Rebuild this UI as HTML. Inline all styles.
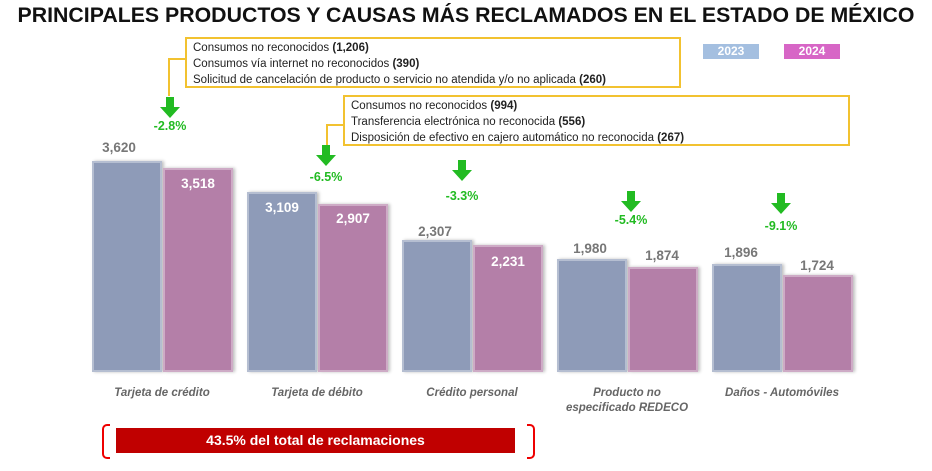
<!DOCTYPE html>
<html><head><meta charset="utf-8"><style>
body{margin:0;width:932px;height:471px;background:#fff;position:relative;overflow:hidden;font-family:"Liberation Sans",sans-serif}
.a{position:absolute}
.t{left:0;width:932px;top:3px;text-align:center;font-weight:bold;font-size:21.3px;color:#111;white-space:nowrap}
.bar{position:absolute;box-sizing:border-box;border:2px solid rgba(255,255,255,.35);box-shadow:2px 0 3px rgba(0,0,0,.25)}
.b3{background:#8e9bb8}.b4{background:#b47fa8}
.v{position:absolute;width:70px;text-align:center;font-weight:bold;font-size:13.5px}
.g{color:#777}.w{color:#fff}
.box{position:absolute;border:2px solid #f2c230;background:#fff;font-size:11.5px;line-height:16px;padding:1px 6px;box-sizing:border-box;color:#222}
.ln{position:absolute;background:#f2c230}
.arr{position:absolute;width:20px;height:21px}
.pct{position:absolute;width:60px;text-align:center;color:#22bb22;font-weight:bold;font-size:12.5px}
.lab{position:absolute;width:160px;text-align:center;font-style:italic;font-weight:bold;font-size:11.5px;color:#666;line-height:15px}
</style></head><body>
<div class="a t">PRINCIPALES PRODUCTOS Y CAUSAS MÁS RECLAMADOS EN EL ESTADO DE MÉXICO</div>
<div class="a" style="left:703px;top:44px;width:56px;height:15px;background:#a4bfe0;color:#fff;font-weight:bold;font-size:12px;text-align:center;line-height:15px">2023</div>
<div class="a" style="left:784px;top:44px;width:56px;height:15px;background:#d766c6;color:#fff;font-weight:bold;font-size:12px;text-align:center;line-height:15px">2024</div>

<div class="ln" style="left:168px;top:58px;width:18px;height:2px"></div>
<div class="ln" style="left:168px;top:58px;width:2px;height:38px"></div>
<div class="box" style="left:185px;top:37px;width:496px;height:51px">Consumos no reconocidos <b>(1,206)</b><br>Consumos vía internet no reconocidos <b>(390)</b><br>Solicitud de cancelación de producto o servicio no atendida y/o no aplicada <b>(260)</b></div>
<div class="ln" style="left:326px;top:124px;width:18px;height:2px"></div>
<div class="ln" style="left:326px;top:124px;width:2px;height:22px"></div>
<div style="position:absolute;left:343px;top:95px;width:507px;height:51px;box-sizing:border-box;border:2px solid #f2c230;background:#fff;font-size:11.5px;line-height:16px;padding:1px 6px;color:#222">Consumos no reconocidos <b>(994)</b><br>Transferencia electrónica no reconocida <b>(556)</b><br>Disposición de efectivo en cajero automático no reconocida <b>(267)</b></div>

<svg class="arr" style="left:160px;top:97px" viewBox="0 0 20 21"><path d="M6 0h8v10h6L10 21 0 10h6z" fill="#22bb22"/></svg>
<div class="pct" style="left:140px;top:119px">-2.8%</div>
<svg class="arr" style="left:316px;top:145px" viewBox="0 0 20 21"><path d="M6 0h8v10h6L10 21 0 10h6z" fill="#22bb22"/></svg>
<div class="pct" style="left:296px;top:170px">-6.5%</div>
<svg class="arr" style="left:452px;top:160px" viewBox="0 0 20 21"><path d="M6 0h8v10h6L10 21 0 10h6z" fill="#22bb22"/></svg>
<div class="pct" style="left:432px;top:189px">-3.3%</div>
<svg class="arr" style="left:621px;top:191px" viewBox="0 0 20 21"><path d="M6 0h8v10h6L10 21 0 10h6z" fill="#22bb22"/></svg>
<div class="pct" style="left:601px;top:213px">-5.4%</div>
<svg class="arr" style="left:771px;top:193px" viewBox="0 0 20 21"><path d="M6 0h8v10h6L10 21 0 10h6z" fill="#22bb22"/></svg>
<div class="pct" style="left:751px;top:219px">-9.1%</div>

<div class="bar b3" style="left:92px;top:161px;width:70px;height:211px"></div>
<div class="bar b4" style="left:163px;top:168px;width:70px;height:204px"></div>
<div class="v g" style="left:84px;top:140px">3,620</div>
<div class="v w" style="left:163px;top:176px">3,518</div>
<div class="bar b3" style="left:247px;top:192px;width:70px;height:180px"></div>
<div class="bar b4" style="left:318px;top:204px;width:70px;height:168px"></div>
<div class="v w" style="left:247px;top:200px">3,109</div>
<div class="v w" style="left:318px;top:211px">2,907</div>
<div class="bar b3" style="left:402px;top:240px;width:70px;height:132px"></div>
<div class="bar b4" style="left:473px;top:245px;width:70px;height:127px"></div>
<div class="v g" style="left:400px;top:224px">2,307</div>
<div class="v w" style="left:473px;top:254px">2,231</div>
<div class="bar b3" style="left:557px;top:259px;width:70px;height:113px"></div>
<div class="bar b4" style="left:628px;top:267px;width:70px;height:105px"></div>
<div class="v g" style="left:555px;top:241px">1,980</div>
<div class="v g" style="left:627px;top:248px">1,874</div>
<div class="bar b3" style="left:712px;top:264px;width:70px;height:108px"></div>
<div class="bar b4" style="left:783px;top:275px;width:70px;height:97px"></div>
<div class="v g" style="left:706px;top:245px">1,896</div>
<div class="v g" style="left:782px;top:258px">1,724</div>

<div class="lab" style="left:82px;top:386px">Tarjeta de crédito</div>
<div class="lab" style="left:237px;top:386px">Tarjeta de débito</div>
<div class="lab" style="left:392px;top:386px">Crédito personal</div>
<div class="lab" style="left:547px;top:386px">Producto no<br>especificado REDECO</div>
<div class="lab" style="left:702px;top:386px">Daños - Automóviles</div>

<div class="a" style="left:102px;top:424px;width:8px;height:35px;border:2.5px solid #e00;border-right:none;border-radius:5px 0 0 5px;box-sizing:border-box"></div>
<div class="a" style="left:116px;top:428px;width:399px;height:25px;background:#c00000;color:#fff;font-weight:bold;font-size:14px;text-align:center;line-height:25px">43.5% del total de reclamaciones</div>
<div class="a" style="left:527px;top:424px;width:8px;height:35px;border:2.5px solid #e00;border-left:none;border-radius:0 5px 5px 0;box-sizing:border-box"></div>
</body></html>
